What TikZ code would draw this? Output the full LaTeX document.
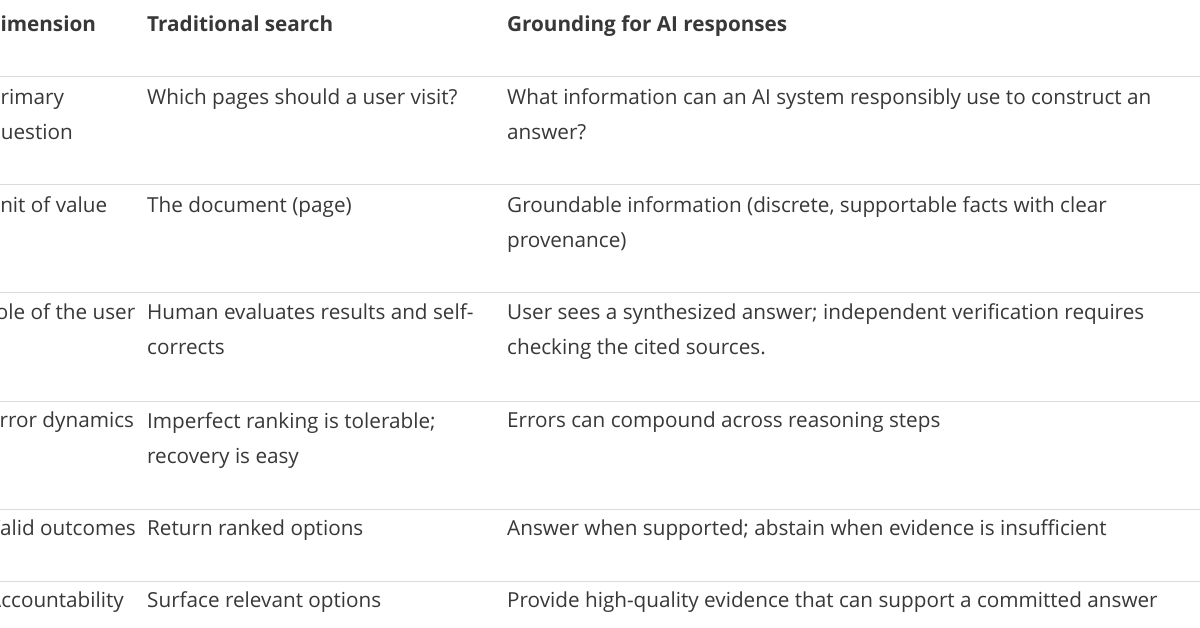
\documentclass[tikz,border=0pt]{standalone}
\usepackage{fontspec}
\setmainfont{Open Sans}
\begin{document}
\begin{tikzpicture}[x=1pt,y=-1pt,
  cell/.style={anchor=base west,inner sep=0pt,align=left,font=\fontsize{20.7}{35}\selectfont,text=black!78},
  head/.style={cell,font=\fontsize{20.7}{35}\selectfont\bfseries},
  rule/.style={draw=black!14,line width=1pt}]
\begin{scope}
\clip (0,0) rectangle (1200,628);
\fill[white] (0,0) rectangle (1200,628);
\foreach \y in {77,185,293,401,509,581} \draw[rule] (0,\y) -- (1200,\y);
\node[head] (h1) at (-15,32) {Dimension};
\node[head] (h2) at (147,32) {Traditional search};
\node[head] (h3) at (507,32) {Grounding for AI responses};
\node[cell] (a1) at (-12,140) {Primary\\question};
\node[cell] (b1) at (147,105) {Which pages should a user visit?};
\node[cell] (c1) at (507,140) {What information can an AI system responsibly use to construct an\\answer?};
\node[cell] (a2) at (-15,213) {Unit of value};
\node[cell] (b2) at (147,213) {The document (page)};
\node[cell] (c2) at (507,248) {Groundable information (discrete, supportable facts with clear\\provenance)};
\node[cell] (a3) at (-17,320) {Role of the user};
\node[cell] (b3) at (147,355) {Human evaluates results and self-\\corrects};
\node[cell] (c3) at (507,355) {User sees a synthesized answer; independent verification requires\\checking the cited sources.};
\node[cell] (a4) at (-12,428) {Error dynamics};
\node[cell] (b4) at (147,463) {Imperfect ranking is tolerable;\\recovery is easy};
\node[cell] (c4) at (507,428) {Errors can compound across reasoning steps};
\node[cell] (a5) at (-12,535) {Valid outcomes};
\node[cell] (b5) at (147,535) {Return ranked options};
\node[cell] (c5) at (507,535) {Answer when supported; abstain when evidence is insufficient};
\node[cell] (a6) at (-12,607) {Accountability};
\node[cell] (b6) at (147,607) {Surface relevant options};
\node[cell] (c6) at (507,607) {Provide high-quality evidence that can support a committed answer};
\end{scope}
\useasboundingbox (0,0) rectangle (1200,628);
\end{tikzpicture}
\end{document}
